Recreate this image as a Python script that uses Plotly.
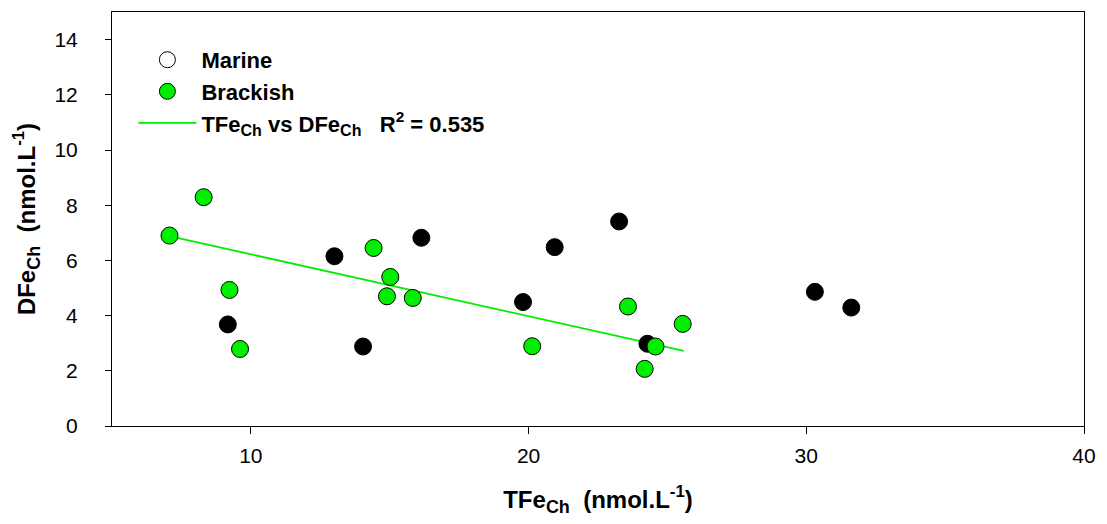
import plotly.graph_objects as go

# Data
marine_x = [9.17, 13.01, 14.04, 16.14, 19.80, 20.94, 23.26, 24.28, 30.31, 31.62]
marine_y = [3.68, 6.15, 2.88, 6.82, 4.49, 6.48, 7.41, 2.98, 4.86, 4.29]

brackish_x = [7.07, 8.30, 9.23, 9.61, 14.42, 15.02, 14.90, 15.83, 20.13, 23.58, 25.55, 24.57, 24.18]
brackish_y = [6.90, 8.29, 4.93, 2.79, 6.45, 5.40, 4.70, 4.64, 2.89, 4.33, 3.70, 2.88, 2.07]

# Fitted line endpoints as drawn in the figure
fit_x = [7.07, 25.59]
fit_y = [6.88, 2.72]

x_ticks = [10, 20, 30, 40]
y_ticks = [0, 2, 4, 6, 8, 10, 12, 14]

GREEN = "#00EE00"
FONT = "Arial, Liberation Sans, sans-serif"


def sub(t, px):
    return f"<sub><span style='font-size:{px}px'>{t}</span></sub>"


fig = go.Figure()

# regression line (drawn first, below points)
fig.add_trace(go.Scatter(
    x=fit_x, y=fit_y, mode="lines",
    line=dict(color=GREEN, width=1.8),
    name=f"<b>TFe{sub('Ch', 16)} vs DFe{sub('Ch', 16)}   R<sup>2</sup> = 0.535</b>",
    legendrank=3,
))

# marine points (black)
fig.add_trace(go.Scatter(
    x=marine_x, y=marine_y, mode="markers",
    marker=dict(size=17, color="black", line=dict(color="black", width=1)),
    showlegend=False,
))

# brackish points
fig.add_trace(go.Scatter(
    x=brackish_x, y=brackish_y, mode="markers",
    marker=dict(size=17, color=GREEN, line=dict(color="black", width=1)),
    name="<b>Brackish</b>",
    legendrank=2,
))

# legend-only entry for Marine (open symbol as in the original key)
fig.add_trace(go.Scatter(
    x=[None], y=[None], mode="markers",
    marker=dict(size=16, color="white", line=dict(color="black", width=1)),
    name="<b>Marine</b>",
    legendrank=1,
))

fig.update_layout(
    width=1107, height=524,
    margin=dict(l=112, r=18, t=11, b=98),
    paper_bgcolor="white", plot_bgcolor="white",
    font=dict(family=FONT, size=21, color="black"),
    legend=dict(
        x=0.022, y=0.935, xanchor="left", yanchor="top",
        font=dict(size=22, family=FONT, color="black"),
        bgcolor="rgba(0,0,0,0)", itemwidth=58,
    ),
    xaxis=dict(
        range=[5, 40], tickvals=x_ticks,
        showline=True, linecolor="black", linewidth=1, mirror=True,
        ticks="outside", ticklen=7, tickcolor="black",
        showgrid=False, zeroline=False,
        tickfont=dict(size=21),
        ticklabelstandoff=4,
        title=dict(text=f"<b>TFe{sub('Ch', 18)}  (nmol.L<sup>-1</sup>)</b>", font=dict(size=24), standoff=24),
    ),
    yaxis=dict(
        range=[0, 15], tickvals=y_ticks,
        showline=True, linecolor="black", linewidth=1, mirror=True,
        ticks="outside", ticklen=6, tickcolor="black",
        showgrid=False, zeroline=False,
        tickfont=dict(size=21),
        ticklabelstandoff=23,
        title=dict(text=f"<b>DFe{sub('Ch', 18)}  (nmol.L<sup>-1</sup>)</b>", font=dict(size=24), standoff=12),
    ),
)

fig.write_html("out.html")
